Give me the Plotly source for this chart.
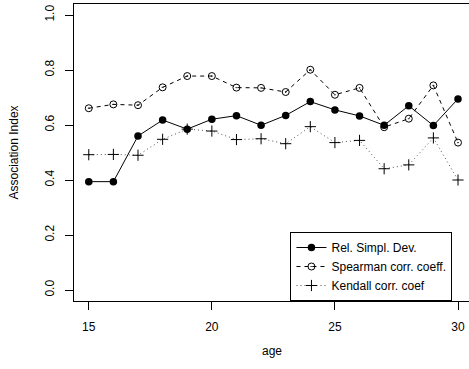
import plotly.graph_objects as go

# Association indices by age
age = list(range(15, 31))
rel_simpl_dev = [0.394, 0.394, 0.560, 0.618, 0.585, 0.621, 0.634, 0.599,
                 0.635, 0.685, 0.655, 0.633, 0.599, 0.670, 0.598, 0.695]
spearman = [0.661, 0.675, 0.672, 0.737, 0.778, 0.778, 0.736, 0.735,
            0.720, 0.801, 0.710, 0.735, 0.592, 0.623, 0.744, 0.536]
kendall = [0.492, 0.493, 0.490, 0.548, 0.585, 0.578, 0.547, 0.550,
           0.532, 0.594, 0.536, 0.544, 0.441, 0.455, 0.553, 0.400]

x_ticks = [15, 20, 25, 30]
y_ticks = [0.0, 0.2, 0.4, 0.6, 0.8, 1.0]

FONT = "Liberation Sans, Arial, sans-serif"

fig = go.Figure()
fig.add_trace(go.Scatter(
    x=age, y=rel_simpl_dev, name="Rel. Simpl. Dev.", mode="lines+markers",
    line=dict(color="black", width=1),
    marker=dict(symbol="circle", size=7.5, color="black"),
))
fig.add_trace(go.Scatter(
    x=age, y=spearman, name="Spearman corr. coeff.", mode="lines+markers",
    line=dict(color="black", width=1, dash="4px,4px"),
    marker=dict(symbol="circle-open-dot", size=7, color="black",
                line=dict(width=1, color="black")),
))
fig.add_trace(go.Scatter(
    x=age, y=kendall, name="Kendall corr. coef", mode="lines+markers",
    line=dict(color="#555555", width=1, dash="1px,3px"),
    marker=dict(symbol="cross-thin-open", size=8, color="black",
                line=dict(width=1, color="black")),
))

fig.update_layout(
    width=469, height=369,
    margin=dict(l=74, r=0, t=4, b=68),
    paper_bgcolor="white", plot_bgcolor="white",
    font=dict(family=FONT, size=12, color="black"),
    showlegend=True,
    legend=dict(
        x=0.548, y=0, xanchor="left", yanchor="bottom",
        bgcolor="white", bordercolor="black", borderwidth=1,
        font=dict(family=FONT, size=12, color="black"),
        itemwidth=30, tracegroupgap=0,
    ),
    xaxis=dict(
        range=[14.4, 30.447], tickvals=x_ticks, ticks="outside", ticklen=8,
        tickcolor="black", tickwidth=1, showgrid=False, zeroline=False,
        showline=True, linecolor="black", linewidth=1, mirror=True,
        ticklabelstandoff=7,
    ),
    yaxis=dict(
        range=[-0.04, 1.04], tickvals=y_ticks,
        ticktext=[f"{v:.1f}" for v in y_ticks],
        ticks="outside", ticklen=8, tickcolor="black", tickwidth=1,
        tickangle=-90, showgrid=False, zeroline=False,
        showline=True, linecolor="black", linewidth=1, mirror=False,
        ticklabelstandoff=6,
    ),
    annotations=[
        dict(text="age", xref="paper", yref="paper", x=0.5, y=0,
             yshift=-50, xanchor="center", yanchor="middle",
             showarrow=False, font=dict(size=12)),
        dict(text="Association Index", xref="paper", yref="paper",
             x=0, xshift=-61, y=0.5, xanchor="center", yanchor="middle",
             textangle=-90, showarrow=False, font=dict(size=12)),
    ],
)

fig.write_html("out.html")
